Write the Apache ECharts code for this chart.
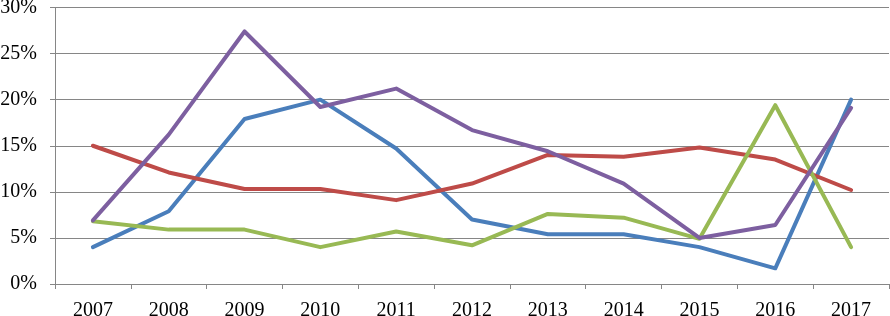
<!DOCTYPE html>
<html>
<head>
<meta charset="utf-8">
<script src="https://cdn.jsdelivr.net/npm/echarts@6/dist/echarts.min.js"></script>
<style>html,body{margin:0;padding:0;background:#fff}#c{width:890px;height:316px}</style>
</head>
<body>
<div id="c"></div>
<script>
const years = ['2007','2008','2009','2010','2011','2012','2013','2014','2015','2016','2017'];
const blueSeries   = [4.0, 7.9, 17.9, 20.0, 14.7, 7.0, 5.4, 5.4, 4.0, 1.7, 20.0];
const redSeries    = [15.0, 12.1, 10.3, 10.3, 9.1, 10.9, 14.0, 13.8, 14.8, 13.5, 10.2];
const greenSeries  = [6.8, 5.9, 5.9, 4.0, 5.7, 4.2, 7.6, 7.2, 4.9, 19.4, 4.0];
const purpleSeries = [6.9, 16.2, 27.4, 19.2, 21.2, 16.7, 14.4, 10.9, 5.0, 6.4, 19.1];
const yTicks = [0, 5, 10, 15, 20, 25, 30];

const font = '"Liberation Serif", "Times New Roman", serif';
const mk = (name, data, color) => ({
  name, type: 'line', data, symbol: 'none', smooth: false,
  lineStyle: { color, width: 4, join: 'round', cap: 'round' },
  itemStyle: { color }
});
const chart = echarts.init(document.getElementById('c'));
chart.setOption({
  animation: false,
  grid: { left: 55, right: 1, top: 7.5, bottom: 32, containLabel: false, outerBoundsMode: 'none' },
  xAxis: {
    type: 'category', data: years, boundaryGap: true,
    axisLine: { lineStyle: { color: '#868686', width: 1 } },
    axisTick: { show: true, length: 5, lineStyle: { color: '#868686' }, alignWithLabel: false },
    axisLabel: { color: '#000', fontFamily: font, fontSize: 20, margin: 17 },
    splitLine: { show: false }
  },
  yAxis: {
    type: 'value', min: yTicks[0], max: yTicks[yTicks.length - 1], interval: 5,
    axisLine: { show: true, lineStyle: { color: '#868686', width: 1 } },
    axisTick: { show: true, length: 5, lineStyle: { color: '#868686' } },
    axisLabel: { color: '#000', fontFamily: font, fontSize: 20, margin: 18, formatter: v => v + '%' },
    splitLine: { show: true, lineStyle: { color: '#868686', width: 1 } }
  },
  series: [
    mk('A', blueSeries, '#4A7EBB'),
    mk('B', redSeries, '#BE4B48'),
    mk('C', greenSeries, '#98B954'),
    mk('D', purpleSeries, '#7D5FA0')
  ]
});
</script>
</body>
</html>
